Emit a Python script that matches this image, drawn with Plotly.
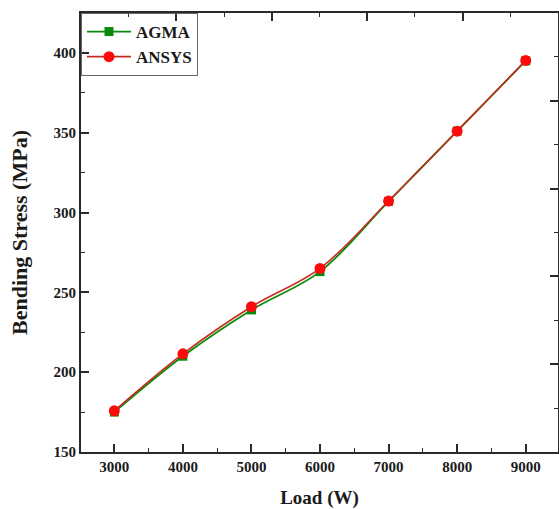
import plotly.graph_objects as go

load = [3000, 4000, 5000, 6000, 7000, 8000, 9000]
agma = [175.0, 210.0, 239.0, 263.0, 307.0, 351.0, 395.0]
ansys = [175.8, 211.5, 241.0, 265.0, 307.2, 351.0, 395.3]
x_ticks = [3000, 4000, 5000, 6000, 7000, 8000, 9000]
y_ticks = [150, 200, 250, 300, 350, 400]

FONT = "Liberation Serif, Times New Roman, serif"
AX = "#2b2b2b"
TXT = "#1a1a1a"

fig = go.Figure()
fig.add_trace(go.Scatter(
    x=load, y=agma, name="AGMA", mode="lines+markers",
    line=dict(color="#0a8a0a", width=1.8, shape="spline", smoothing=1.0),
    marker=dict(symbol="square", size=9, color="#0a8a0a"),
))
fig.add_trace(go.Scatter(
    x=load, y=ansys, name="ANSYS", mode="lines+markers",
    line=dict(color="#c82a1e", width=1.6, shape="spline", smoothing=1.0),
    marker=dict(symbol="circle", size=11, color="#ff0a0a"),
))
# invisible helper trace so the mirrored top/right axes are drawn
fig.add_trace(go.Scatter(x=[0], y=[0], xaxis="x2", yaxis="y2", mode="markers",
                         marker=dict(opacity=0), showlegend=False, hoverinfo="skip"))

sec = dict(range=[0, 5], dtick=1, tick0=0,
           ticks="inside", ticklen=8, tickwidth=1.6, tickcolor=AX,
           minor=dict(dtick=0.5, ticks="inside", ticklen=4, tickwidth=1.4, tickcolor=AX),
           showticklabels=False, showline=True, linecolor=AX, linewidth=1.8,
           showgrid=False, zeroline=False, automargin=False)

fig.update_layout(
    width=559, height=509,
    margin=dict(l=81, r=1, t=13, b=57),
    paper_bgcolor="white", plot_bgcolor="white",
    font=dict(family=FONT, color=TXT),
    showlegend=True,
    legend=dict(
        x=0, y=1, xanchor="left", yanchor="top",
        bgcolor="rgba(255,255,255,0)", bordercolor="#666", borderwidth=1,
        font=dict(family=FONT, size=17, weight="bold", color=TXT),
        tracegroupgap=0, itemwidth=44,
    ),
    xaxis=dict(
        range=[2514, 9471], tickvals=x_ticks,
        ticks="inside", ticklen=8, tickwidth=1.6, tickcolor=AX,
        minor=dict(dtick=500, tick0=3000, ticks="inside", ticklen=4, tickwidth=1.4, tickcolor=AX),
        showline=True, linecolor=AX, linewidth=1.8,
        showgrid=False, zeroline=False, automargin=False,
        tickfont=dict(family=FONT, size=15, weight="bold", color=TXT),
        title=dict(text="Load (W)", font=dict(family=FONT, size=19, weight="bold", color=TXT), standoff=17),
    ),
    yaxis=dict(
        range=[150, 425], tickvals=y_ticks,
        ticks="inside", ticklen=8, tickwidth=1.6, tickcolor=AX,
        minor=dict(dtick=25, tick0=150, ticks="inside", ticklen=4, tickwidth=1.4, tickcolor=AX),
        showline=True, linecolor=AX, linewidth=1.8,
        showgrid=False, zeroline=False, automargin=False,
        tickfont=dict(family=FONT, size=15, weight="bold", color=TXT),
        title=dict(text="Bending Stress (MPa)", font=dict(family=FONT, size=22, weight="bold", color=TXT), standoff=20),
    ),
    xaxis2=dict(overlaying="x", side="top", **sec),
    yaxis2=dict(overlaying="y", side="right", **sec),
)

fig.write_html("out.html", config={"displayModeBar": False},
               post_script="document.body.style.margin='0';document.body.style.overflow='hidden';")
